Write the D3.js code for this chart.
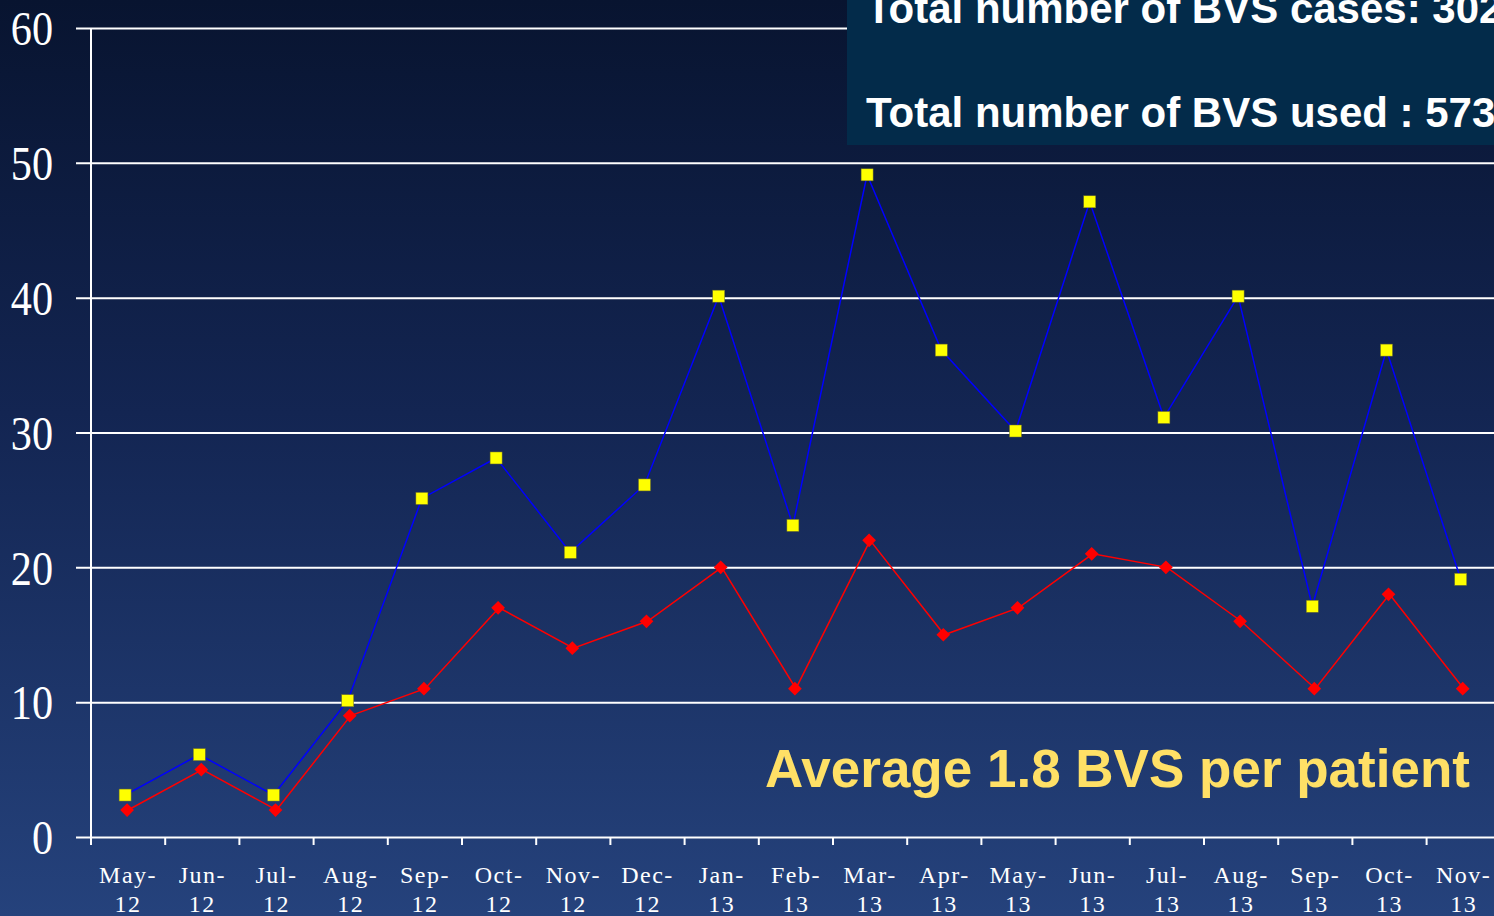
<!DOCTYPE html>
<html>
<head>
<meta charset="utf-8">
<script src="https://cdn.jsdelivr.net/npm/d3@7"></script>
<style>
  html, body { margin: 0; padding: 0; background: #0a1733; overflow: hidden; }
  svg { display: block; }
</style>
</head>
<body>
<div id="chart"></div>
<script>
var width = 1494;
var height = 916;

// months on the x axis (two lines each)
var months = ["May-12", "Jun-12", "Jul-12", "Aug-12", "Sep-12", "Oct-12", "Nov-12",
              "Dec-12", "Jan-13", "Feb-13", "Mar-13", "Apr-13", "May-13", "Jun-13",
              "Jul-13", "Aug-13", "Sep-13", "Oct-13", "Nov-13"];

// BVS used per month (blue line, yellow squares)
var bvsUsed = [3, 6, 3, 10, 25, 28, 21, 26, 40, 23, 49, 36, 30, 47, 31, 40, 17, 36, 19];

// BVS cases per month (red line, red diamonds)
var bvsCases = [2, 5, 2, 9, 11, 17, 14, 16, 20, 11, 22, 15, 17, 21, 20, 16, 11, 18, 11];

var yTicks = [0, 10, 20, 30, 40, 50, 60];

var plotLeft = 91, plotTop = 28, plotBottom = 837;
var bandW = 74.2;
var labelScale = 0.88;

var svg = d3.select("#chart").append("svg")
    .attr("width", width)
    .attr("height", height);

// background gradient
var defs = svg.append("defs");
var grad = defs.append("linearGradient")
    .attr("id", "bg")
    .attr("x1", 0).attr("y1", 0).attr("x2", 0).attr("y2", 1);
grad.append("stop").attr("offset", "0%").attr("stop-color", "#081430");
grad.append("stop").attr("offset", "45%").attr("stop-color", "#132552");
grad.append("stop").attr("offset", "100%").attr("stop-color", "#25427c");

svg.append("rect")
    .attr("width", width)
    .attr("height", height)
    .attr("fill", "url(#bg)");

var xScale = d3.scaleBand()
    .domain(months)
    .range([plotLeft, plotLeft + bandW * months.length]);

var yScale = d3.scaleLinear()
    .domain([0, 60])
    .range([plotBottom, plotTop]);

// horizontal grid lines + y labels
var yAxis = d3.axisLeft(yScale)
    .tickValues(yTicks)
    .tickSize(-(width - plotLeft))
    .tickSizeOuter(0)
    .tickFormat(d3.format("d"));

var yG = svg.append("g")
    .attr("transform", "translate(" + plotLeft + ",0)")
    .call(yAxis);
yG.select(".domain").remove();
yG.selectAll(".tick line")
    .attr("x1", -15)
    .attr("stroke", "#ffffff")
    .attr("stroke-width", 2);
// slightly condensed serif labels like the original
yG.selectAll(".tick text")
    .attr("fill", "#ffffff")
    .attr("x", -38 / labelScale)
    .attr("dy", "0.35em")
    .attr("transform", "scale(" + labelScale + ",1)")
    .style("font-family", "'Liberation Serif', 'Times New Roman', serif")
    .style("font-size", "48px");

// vertical axis line
svg.append("line")
    .attr("x1", plotLeft).attr("x2", plotLeft)
    .attr("y1", plotTop).attr("y2", plotBottom)
    .attr("stroke", "#ffffff")
    .attr("stroke-width", 2);

// x axis ticks at band boundaries
var xG = svg.append("g");
xG.selectAll(".xtick")
    .data(months)
    .enter()
    .append("line")
    .attr("x1", function (d) { return xScale(d); })
    .attr("x2", function (d) { return xScale(d); })
    .attr("y1", plotBottom)
    .attr("y2", plotBottom + 8)
    .attr("stroke", "#ffffff")
    .attr("stroke-width", 2);

var xLabels = xG.selectAll(".xlabel")
    .data(months)
    .enter()
    .append("text")
    .attr("text-anchor", "middle")
    .attr("fill", "#ffffff")
    .style("font-family", "'Liberation Serif', 'Times New Roman', serif")
    .style("font-size", "24px")
    .style("letter-spacing", "1.5px");
xLabels.append("tspan")
    .attr("x", function (d) { return xScale(d) + xScale.bandwidth() / 2; })
    .attr("y", 883)
    .text(function (d) { return d.split("-")[0] + "-"; });
xLabels.append("tspan")
    .attr("x", function (d) { return xScale(d) + xScale.bandwidth() / 2; })
    .attr("y", 912)
    .text(function (d) { return d.split("-")[1]; });

// red line - cases
var cx = function (d, i) { return xScale(months[i]) + xScale.bandwidth() / 2; };

var redG = svg.append("g");
redG.append("path")
    .datum(bvsCases)
    .attr("d", d3.line().x(cx).y(function (d) { return yScale(d); }))
    .attr("fill", "none")
    .attr("stroke", "#ff0000")
    .attr("stroke-width", 1.5);
redG.selectAll(".diamond")
    .data(bvsCases)
    .enter()
    .append("path")
    .attr("d", d3.symbol().type(d3.symbolDiamond2).size(120))
    .attr("transform", function (d, i) {
        return "translate(" + (cx(d, i) - 1) + "," + yScale(d) + ")";
    })
    .attr("fill", "#ff0000");

// blue line - BVS used (slightly offset like the original)
var blueG = svg.append("g").attr("transform", "translate(-3,-1.5)");
blueG.append("path")
    .datum(bvsUsed)
    .attr("d", d3.line().x(cx).y(function (d) { return yScale(d); }))
    .attr("fill", "none")
    .attr("stroke", "#0000ff")
    .attr("stroke-width", 1.5);
blueG.selectAll(".square")
    .data(bvsUsed)
    .enter()
    .append("rect")
    .attr("x", function (d, i) { return cx(d, i) - 6; })
    .attr("y", function (d) { return yScale(d) - 6; })
    .attr("width", 12)
    .attr("height", 12)
    .attr("fill", "#ffff00")
    .attr("stroke", "#6d6d2a")
    .attr("stroke-width", 0.5);

// info box top right
svg.append("rect")
    .attr("x", 847).attr("y", 0)
    .attr("width", width - 847).attr("height", 145)
    .attr("fill", "#032b4a");

var boxText = svg.append("g")
    .style("font-family", "'Liberation Sans', Arial, sans-serif")
    .style("font-weight", "bold")
    .style("font-size", "42px")
    .attr("fill", "#ffffff");
boxText.append("text").attr("x", 866).attr("y", 23).text("Total number of BVS cases: 302");
boxText.append("text").attr("x", 866).attr("y", 127).text("Total number of BVS used : 573");

// average note
svg.append("text")
    .attr("x", 765).attr("y", 787)
    .attr("fill", "#ffe066")
    .style("font-family", "'Liberation Sans', Arial, sans-serif")
    .style("font-weight", "bold")
    .style("font-size", "53px")
    .text("Average 1.8 BVS per patient");
</script>
</body>
</html>
